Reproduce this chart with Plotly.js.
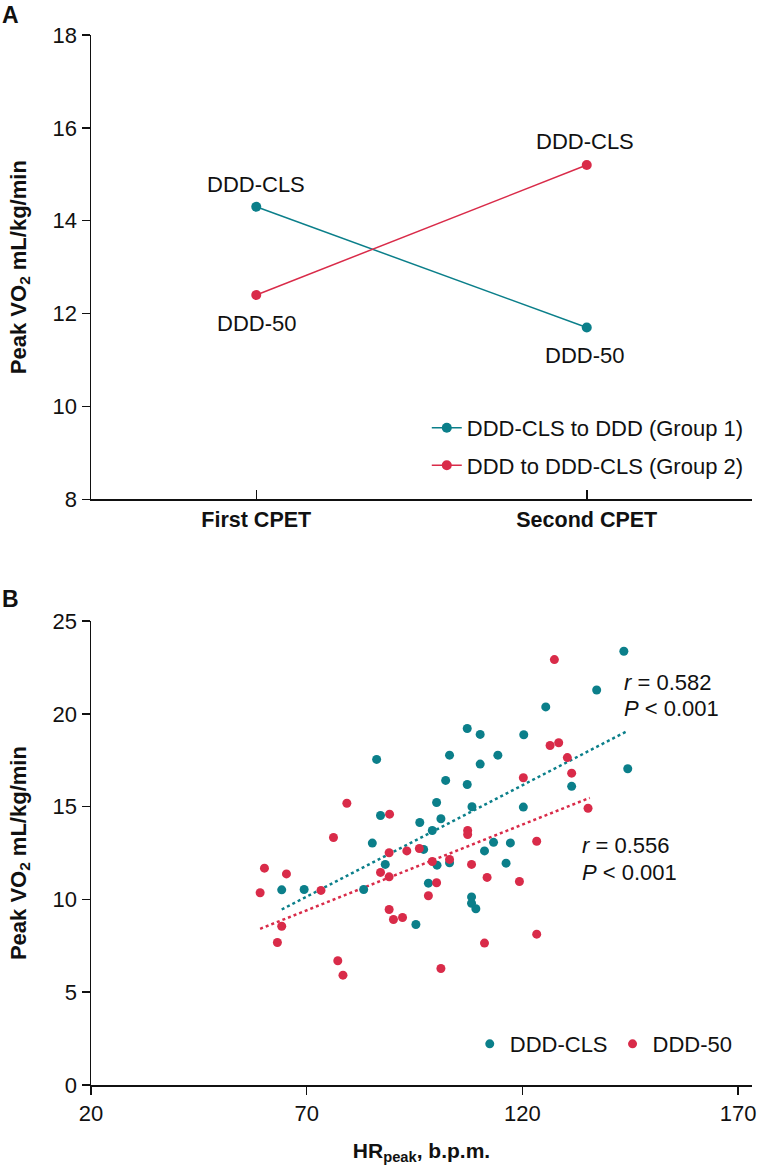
<!DOCTYPE html>
<html>
<head>
<meta charset="utf-8">
<script src="https://cdn.plot.ly/plotly-3.0.1.min.js"></script>
<style>
html,body{margin:0;padding:0;background:#fff;}
#chart{width:757px;height:1173px;}
</style>
</head>
<body>
<div id="chart"></div>
<script>
// ---- Panel A data ----
const cpetLabels = ['First CPET', 'Second CPET'];
const group1VO2 = [14.3, 11.7];   // DDD-CLS to DDD (Group 1)
const group2VO2 = [12.4, 15.2];   // DDD to DDD-CLS (Group 2)
const group1PointLabels = ['DDD-CLS', 'DDD-50'];
const group2PointLabels = ['DDD-50', 'DDD-CLS'];
const groupNames = ['DDD-CLS to DDD (Group 1)', 'DDD to DDD-CLS (Group 2)'];

// ---- Panel B data ----
const clsHR  = [107.2,110.2,86.2,103.1,110.2,102.2,107.2,100.1,108.3,87.1,96.2,101.1,99.1,85.2,97.1,111.2,88.2,100.2,103.1,64.2,69.4,83.2,98.2,108.2,108.2,109.2,95.3,143.5,137.2,125.4,120.3,114.3,144.4,131.4,120.2,113.3,117.2,116.2];
const clsVO2 = [19.22,18.9,17.55,17.78,17.3,16.42,16.2,15.23,15.0,14.53,14.15,14.35,13.72,13.04,12.7,12.62,11.89,11.85,11.98,10.52,10.54,10.54,10.88,10.14,9.8,9.5,8.65,23.38,21.29,20.38,18.88,17.78,17.05,16.1,14.98,13.08,13.05,11.96];
const d50HR  = [79.3,89.2,76.2,107.3,107.3,89.1,93.2,96.1,60.2,65.3,99.1,103.1,108.2,87.1,89.1,111.8,59.2,73.3,100.1,98.2,64.2,89.1,90.1,92.2,63.2,111.2,77.2,78.4,101.1,127.4,126.4,128.4,130.4,120.2,131.4,135.2,123.3,119.3,123.3];
const d50VO2 = [15.19,14.6,13.34,13.72,13.5,12.52,12.62,12.75,11.69,11.38,12.05,12.16,11.89,11.46,11.22,11.19,10.36,10.49,10.9,10.2,8.56,9.46,8.92,9.03,7.68,7.65,6.7,5.92,6.28,22.93,18.3,18.45,17.65,16.56,16.81,14.92,13.14,10.97,8.13];
const clsTrendHR = [64.2, 144.4];
const clsTrendVO2 = [9.46, 19.09];
const d50TrendHR = [59.2, 135.6];
const d50TrendVO2 = [8.42, 15.48];
const seriesNames = ['DDD-CLS', 'DDD-50'];
const clsStats = ['<i>r</i> = 0.582', '<i>P</i> < 0.001'];
const d50Stats = ['<i>r</i> = 0.556', '<i>P</i> < 0.001'];
const clsStatsX = 143.1;
const clsStatsY = [21.7, 20.32];
const d50StatsX = 133.3;
const d50StatsY = [12.91, 11.46];

const TEAL = '#0b7f8a';
const RED = '#d92b49';
const FONT = 'Liberation Sans, Arial, Helvetica, sans-serif';
const INK = '#111111';

const traces = [
  {x: cpetLabels, y: group1VO2, type: 'scatter', mode: 'lines+markers', name: groupNames[0],
   line: {color: TEAL, width: 1.5}, marker: {color: TEAL, size: 10}, xaxis: 'x', yaxis: 'y',
   legend: 'legend', legendgroup: 'g1'},
  {x: cpetLabels, y: group2VO2, type: 'scatter', mode: 'lines+markers', name: groupNames[1],
   line: {color: RED, width: 1.5}, marker: {color: RED, size: 10}, xaxis: 'x', yaxis: 'y',
   legend: 'legend', legendgroup: 'g2'},
  {x: clsTrendHR, y: clsTrendVO2, type: 'scatter', mode: 'lines', showlegend: false,
   line: {color: TEAL, width: 2.5, dash: 'dot'}, xaxis: 'x2', yaxis: 'y2', hoverinfo: 'skip'},
  {x: d50TrendHR, y: d50TrendVO2, type: 'scatter', mode: 'lines', showlegend: false,
   line: {color: RED, width: 2.5, dash: 'dot'}, xaxis: 'x2', yaxis: 'y2', hoverinfo: 'skip'},
  {x: clsHR, y: clsVO2, type: 'scatter', mode: 'markers', name: seriesNames[0],
   marker: {color: TEAL, size: 9}, xaxis: 'x2', yaxis: 'y2', legend: 'legend2'},
  {x: d50HR, y: d50VO2, type: 'scatter', mode: 'markers', name: seriesNames[1],
   marker: {color: RED, size: 9}, xaxis: 'x2', yaxis: 'y2', legend: 'legend2'}
];

const annotations = [];
function addPointLabel(xv, yv, txt, shift) {
  annotations.push({x: xv, y: yv, xref: 'x', yref: 'y', text: txt, showarrow: false,
    xanchor: 'center', yanchor: 'middle',
    yshift: shift, xshift: (xv === cpetLabels[1]) ? -2 : 0,
    font: {family: FONT, size: 22, color: INK}});
}
addPointLabel(cpetLabels[0], group1VO2[0], group1PointLabels[0], 22);
addPointLabel(cpetLabels[1], group1VO2[1], group1PointLabels[1], -28);
addPointLabel(cpetLabels[0], group2VO2[0], group2PointLabels[0], -28);
addPointLabel(cpetLabels[1], group2VO2[1], group2PointLabels[1], 24);

function addStats(xv, ys, lines) {
  lines.forEach(function (t, i) {
    annotations.push({x: xv, y: ys[i], xref: 'x2', yref: 'y2', text: t,
      showarrow: false, xanchor: 'left', yanchor: 'middle', align: 'left',
      font: {family: FONT, size: 22, color: INK}});
  });
}
addStats(clsStatsX, clsStatsY, clsStats);
addStats(d50StatsX, d50StatsY, d50Stats);

annotations.push({x: -0.122, y: 1.0186, xref: 'paper', yref: 'paper', text: 'A', showarrow: false,
  xanchor: 'center', yanchor: 'middle',
  font: {family: FONT, size: 23, color: INK, weight: 'bold'}});
annotations.push({x: -0.122, y: 0.463, xref: 'paper', yref: 'paper', text: 'B', showarrow: false,
  xanchor: 'center', yanchor: 'middle',
  font: {family: FONT, size: 23, color: INK, weight: 'bold'}});

const axisCommon = {
  showline: true, linecolor: INK, linewidth: 1.5, showgrid: false, zeroline: false,
  ticks: 'outside', ticklen: 8, tickwidth: 1.5, tickcolor: INK,
  tickfont: {family: FONT, size: 22, color: INK}
};
const yTitle = {text: 'Peak VO<sub>2</sub> mL/kg/min', font: {family: FONT, size: 22, color: INK, weight: 'bold'}, standoff: 20};

const layout = {
  width: 757, height: 1173,
  margin: {l: 91, r: 5, t: 35, b: 88},
  paper_bgcolor: '#ffffff', plot_bgcolor: '#ffffff',
  font: {family: FONT, color: INK},
  showlegend: true,
  xaxis: Object.assign({}, axisCommon, {
    domain: [0, 1], anchor: 'y', type: 'category', range: [-0.5, 1.5],
    ticks: 'inside', ticklen: 9,
    tickfont: {family: FONT, size: 21.5, color: INK, weight: 'bold'}
  }),
  yaxis: Object.assign({}, axisCommon, {
    domain: [0.5578, 1], anchor: 'x', range: [8, 18], dtick: 2, tick0: 8,
    title: yTitle
  }),
  xaxis2: Object.assign({}, axisCommon, {
    domain: [0, 1], anchor: 'y2', range: [20, 173.2], dtick: 50, tick0: 20,
    title: {text: 'HR<sub>peak</sub>, b.p.m.', font: {family: FONT, size: 21, color: INK, weight: 'bold'}, standoff: 18}
  }),
  yaxis2: Object.assign({}, axisCommon, {
    domain: [0, 0.4417], anchor: 'x2', range: [0, 25], dtick: 5, tick0: 0,
    title: yTitle
  }),
  legend: {x: 0.508, y: 0.6458, xanchor: 'left', yanchor: 'top', orientation: 'v',
    bgcolor: 'rgba(0,0,0,0)', font: {family: FONT, size: 22, color: INK},
    tracegroupgap: 6, traceorder: 'grouped', itemwidth: 30},
  legend2: {x: 0.573, y: 0.059, xanchor: 'left', yanchor: 'top', orientation: 'h',
    bgcolor: 'rgba(0,0,0,0)', font: {family: FONT, size: 22, color: INK}},
  annotations: annotations
};

Plotly.newPlot('chart', traces, layout, {staticPlot: true, displayModeBar: false});
</script>
</body>
</html>
